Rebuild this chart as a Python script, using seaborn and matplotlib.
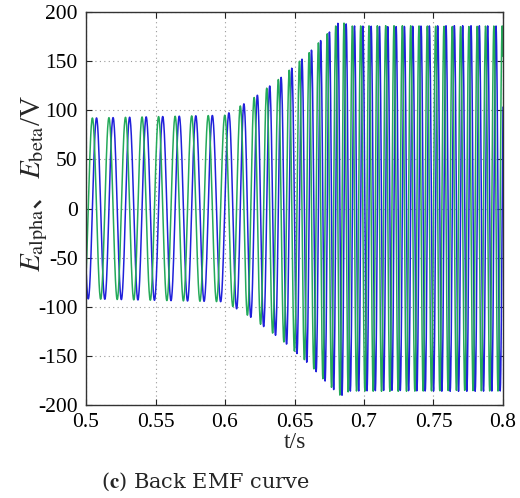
import numpy as np
import pandas as pd
import matplotlib
matplotlib.use("Agg")
import matplotlib.pyplot as plt
import seaborn as sns

# ---- data ----
# amplitude envelope (V) at key times (s)
env_t = [0.5, 0.6, 0.62, 0.64, 0.66, 0.675, 0.683, 0.69, 0.8]
env_a = [92, 95, 112, 133, 158, 180, 191, 186, 186]
# electrical frequency (Hz) at key times (s)
freq_t = [0.5, 0.6, 0.68, 0.8]
freq_hz = [84, 84, 167, 167]
# time of first E_beta (green) peak
first_peak_t = 0.5046
series_names = ["E_alpha", "E_beta"]
series_colors = ["#2020da", "#25aa5a"]
x_ticks = [0.5, 0.55, 0.6, 0.65, 0.7, 0.75, 0.8]
y_ticks = [-200, -150, -100, -50, 0, 50, 100, 150, 200]

# ---- build waveform ----
dt = 2e-4
t = np.arange(0.5, 0.8 + dt / 2, dt)
f = np.interp(t, freq_t, freq_hz)
amp = np.interp(t, env_t, env_a)
ph = np.concatenate([[0], np.cumsum(2 * np.pi * 0.5 * (f[1:] + f[:-1]) * dt)])
ph0 = np.interp(first_peak_t, t, ph)
e_beta = amp * np.cos(ph - ph0)
e_alpha = amp * np.sin(ph - ph0)

df = pd.DataFrame({
    "t": np.concatenate([t, t]),
    "E": np.concatenate([e_alpha, e_beta]),
    "s": [series_names[0]] * len(t) + [series_names[1]] * len(t),
})

sns.set_style("ticks")
plt.rcParams["mathtext.fontset"] = "stix"
plt.rcParams["font.family"] = ["Liberation Serif", "Noto Sans CJK SC", "DejaVu Sans"]

W, H = 520, 498
fig = plt.figure(figsize=(W / 100, H / 100), dpi=100)
ax = fig.add_axes([86 / W, 1 - 405 / H, (503 - 86) / W, (405 - 12) / H])

sns.lineplot(data=df, x="t", y="E", hue="s", palette=series_colors,
             hue_order=series_names, estimator=None, sort=False,
             linewidth=1.1, legend=False, ax=ax)

ax.set_xlim(0.5, 0.8)
ax.set_ylim(-200, 200)
ax.set_xticks(x_ticks)
ax.set_xticklabels([f"{v:g}" for v in x_ticks])
ax.set_yticks(y_ticks)
ax.set_yticklabels([f"{v:d}" for v in y_ticks])
ax.tick_params(direction="in", length=4, width=0.8, labelsize=15.5,
               top=True, right=True, colors="#222222", labelcolor="black")
ax.tick_params(axis="y", pad=6)
ax.tick_params(axis="x", pad=6)
ax.grid(True, linestyle=(0, (1, 3)), color="#999999", linewidth=0.8)
for sp in ax.spines.values():
    sp.set_color("#333333")
    sp.set_linewidth(1.0)

ax.set_xlabel("t/s", fontsize=17, labelpad=0)
ax.set_ylabel("")

# y label assembled from pieces (mathtext + CJK comma)
fig.canvas.draw()
rend = fig.canvas.get_renderer()
pieces = [(r"$E_{\rm alpha}$", None), ("、", ["Noto Sans CJK SC"]),
          (r"$E_{\rm beta}$/V", None)]
ypix = H - 272
for s, fam in pieces:
    kw = {} if fam is None else {"family": fam}
    tx = fig.text(40 / W, ypix / H, s, rotation=90, rotation_mode="anchor",
                  ha="left", va="baseline", fontsize=21, **kw)
    bb = tx.get_window_extent(rend)
    ypix += bb.height

fig.text(205 / W, 1 - 482 / H, r"($\bf{c}$) Back EMF curve", ha="center",
         va="center", fontsize=15, family=["DejaVu Serif"])

fig.savefig("out.png", dpi=100)
